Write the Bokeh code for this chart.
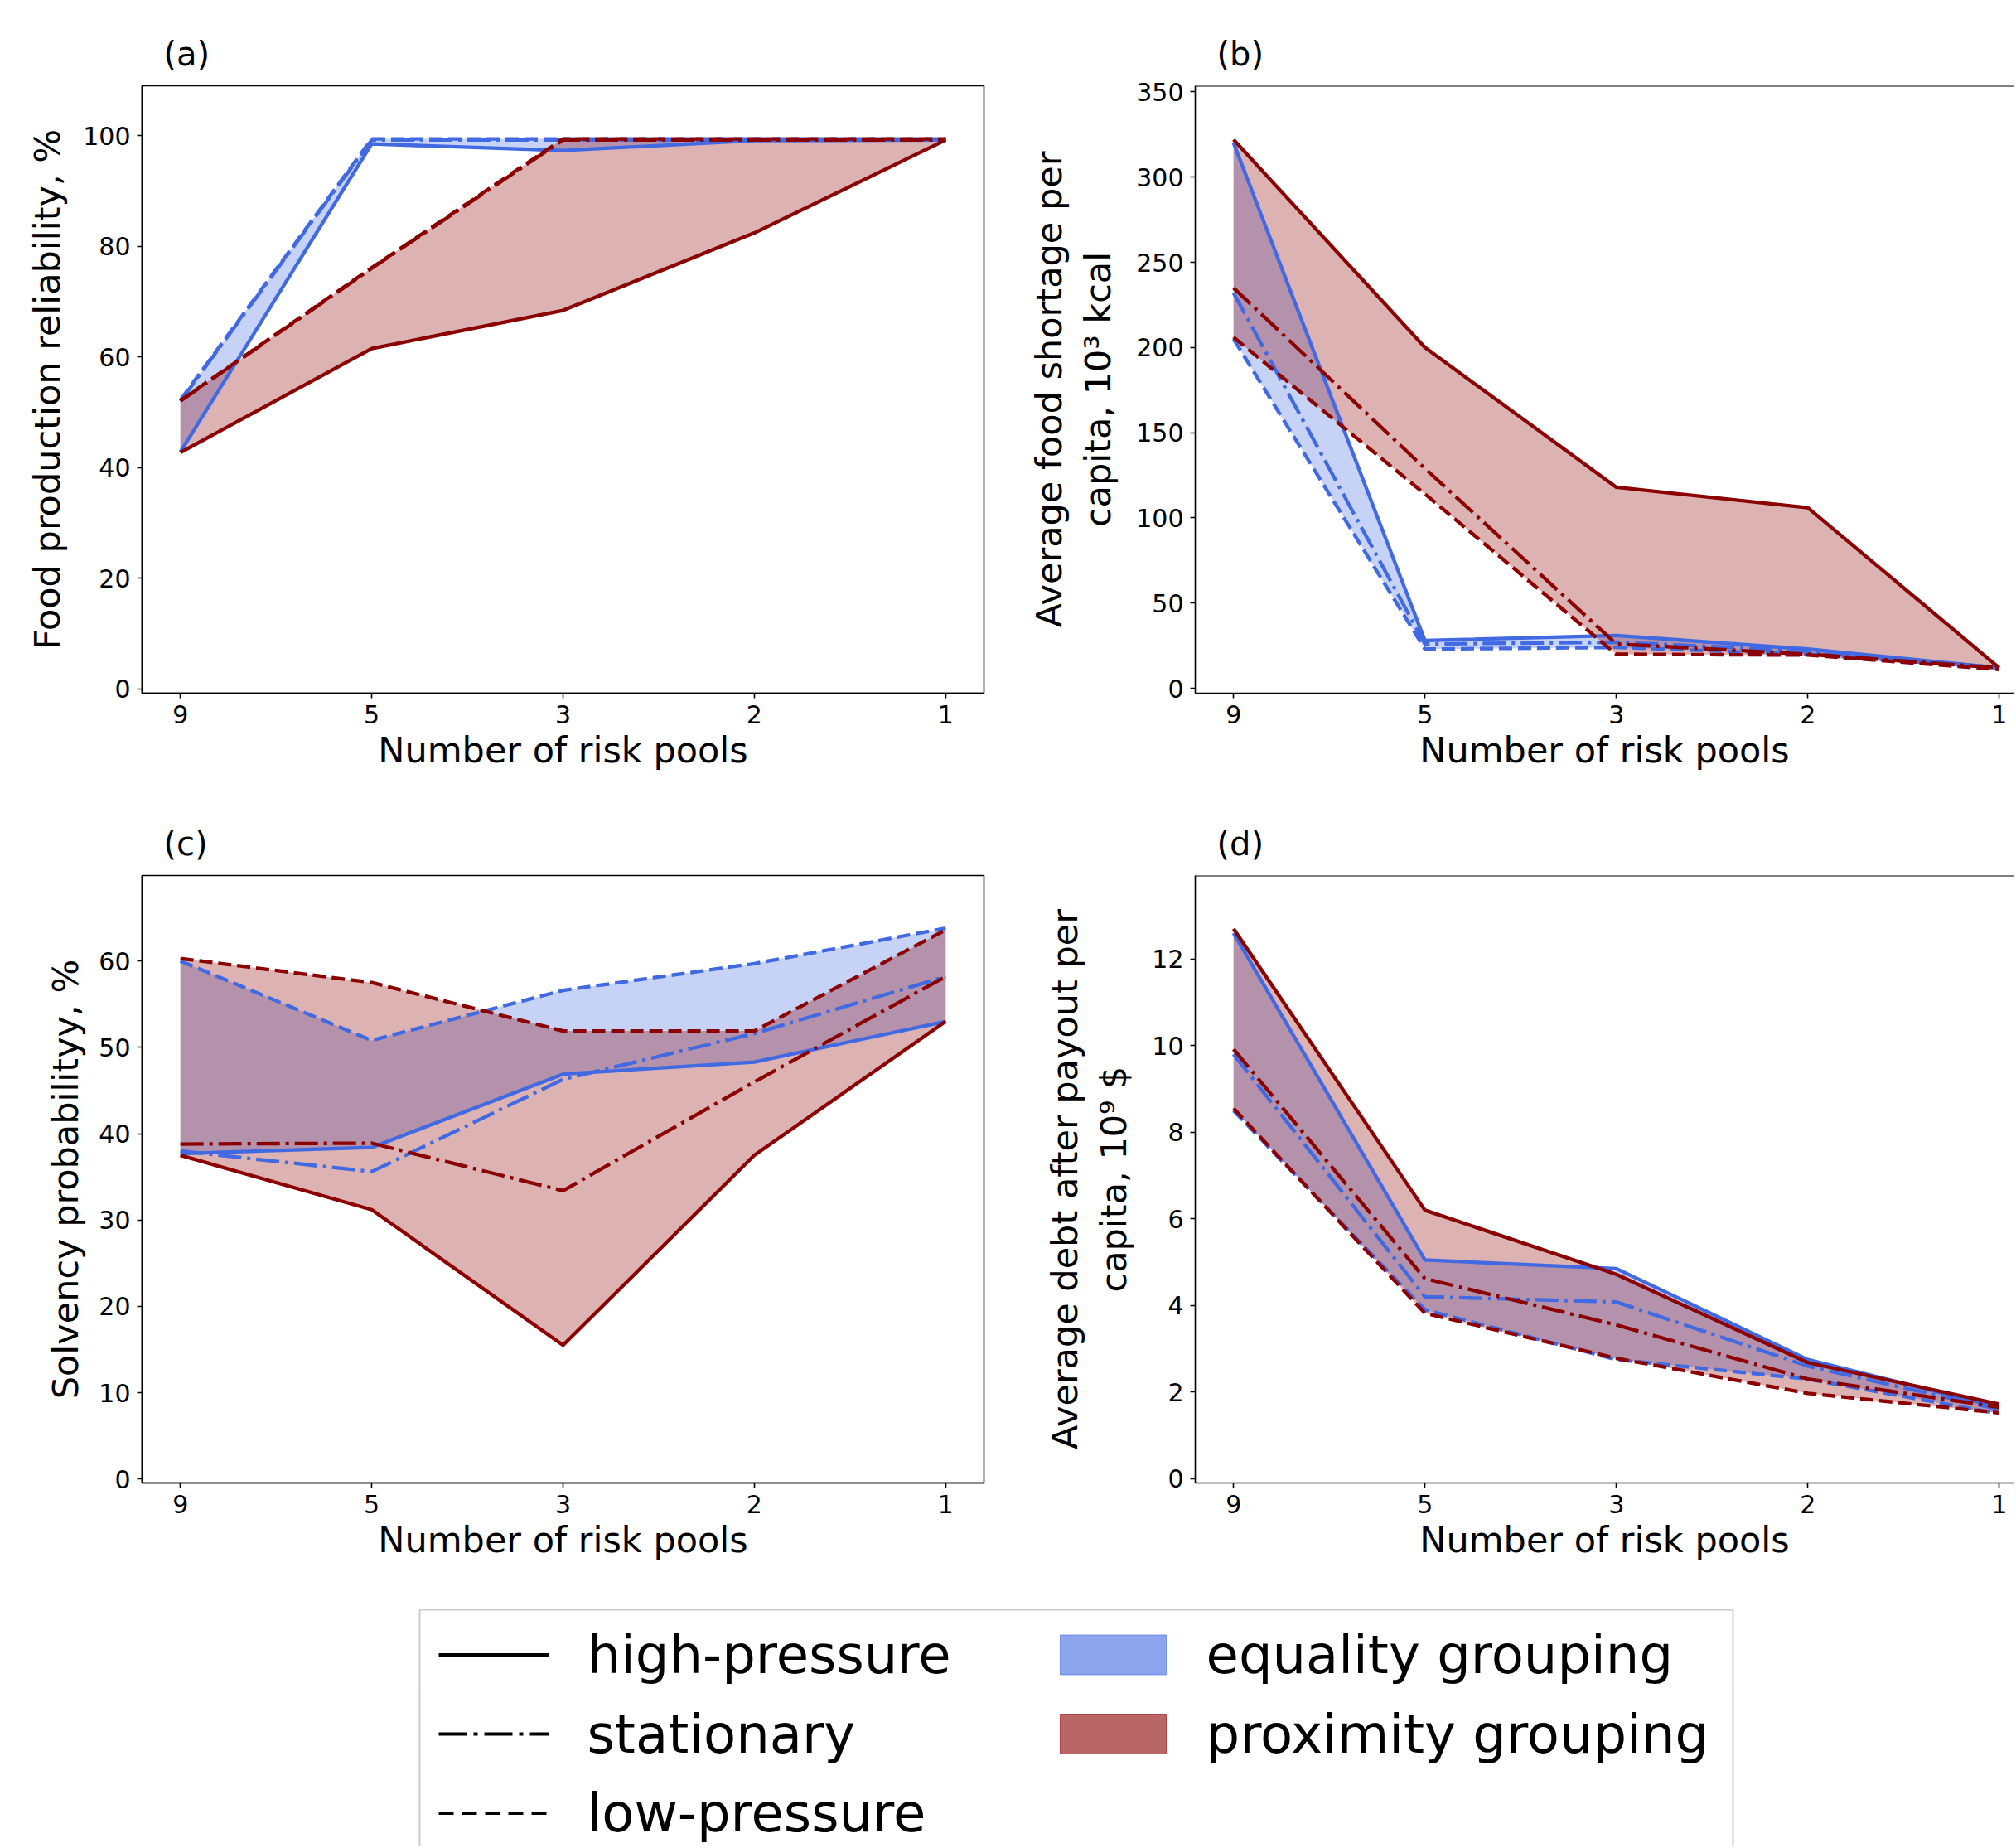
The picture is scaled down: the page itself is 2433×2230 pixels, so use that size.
from bokeh.plotting import figure
from bokeh.models import Range1d, FixedTicker, Span
from bokeh.layouts import column, row
from bokeh.embed import file_html
from bokeh.resources import INLINE
from bokeh.core.properties import value

# ---------------- data ----------------
pools = ["9", "5", "3", "2", "1"]          # number of risk pools (x categories)

# (a) Food production reliability, %
a_eq_high = [42.8, 98.5, 97.3, 99.1, 99.2]
a_eq_stat = [52.0, 99.2, 99.2, 99.2, 99.2]
a_eq_low = [52.2, 99.4, 99.4, 99.4, 99.4]
a_px_high = [42.7, 61.5, 68.4, 82.4, 99.2]
a_px_stat = [52.0, 76.0, 99.2, 99.2, 99.2]
a_px_low = [52.1, 76.1, 99.4, 99.4, 99.4]
a_yticks = [0, 20, 40, 60, 80, 100]

# (b) Average food shortage per capita, 10^3 kcal
b_eq_high = [320, 28, 31, 23, 12]
b_eq_stat = [232, 26, 27, 22, 12]
b_eq_low = [205, 23, 24, 20, 12]
b_px_high = [322, 200, 118, 106, 12]
b_px_stat = [235, 129, 26, 20, 12]
b_px_low = [206, 114, 20, 19.5, 11]
b_yticks = [0, 50, 100, 150, 200, 250, 300, 350]

# (c) Solvency probability, %
c_eq_high = [37.7, 38.4, 46.9, 48.3, 53.0]
c_eq_stat = [38.0, 35.6, 46.3, 51.6, 58.2]
c_eq_low = [60.0, 50.8, 56.6, 59.7, 63.8]
c_px_high = [37.5, 31.2, 15.5, 37.5, 53.0]
c_px_stat = [38.8, 38.9, 33.4, 46.0, 58.2]
c_px_low = [60.3, 57.5, 51.9, 51.9, 63.6]
c_yticks = [0, 10, 20, 30, 40, 50, 60]

# (d) Average debt after payout per capita, 10^9 $
d_eq_high = [12.6, 5.05, 4.85, 2.75, 1.65]
d_eq_stat = [9.8, 4.2, 4.08, 2.6, 1.6]
d_eq_low = [8.5, 3.9, 2.75, 2.3, 1.5]
d_px_high = [12.7, 6.2, 4.72, 2.68, 1.72]
d_px_stat = [9.92, 4.62, 3.55, 2.3, 1.65]
d_px_low = [8.55, 3.82, 2.78, 1.97, 1.52]
d_yticks = [0, 2, 4, 6, 8, 10, 12]

scenario_labels = ["high-pressure", "stationary", "low-pressure"]
grouping_labels = ["equality grouping", "proximity grouping"]

# ---------------- style ----------------
FONT = "DejaVu Sans"
EQ_COLOR = "royalblue"
PX_COLOR = "darkred"
DASHES = {"high": "solid", "stat": "28 7 4 7", "low": "16 7"}
LW = 4.3

xs = list(range(len(pools)))


def make_panel(letter, ylabel, yticks, yrange, xend, eq, px,
               width, height, left, right, top, bottom, closed, ylab_standoff):
    p = figure(width=width, height=height,
               x_range=Range1d(-0.2, xend), y_range=Range1d(*yrange),
               min_border_left=left, min_border_right=right,
               min_border_top=top, min_border_bottom=bottom,
               toolbar_location=None, output_backend="svg", title=letter)
    p.background_fill_color = "white"
    p.border_fill_color = "white"
    p.grid.visible = False
    if closed:
        p.outline_line_color = "black"
        p.outline_line_width = 1.6
        p.outline_line_alpha = 1.0
    else:
        p.outline_line_color = None
        p.add_layout(Span(location=yrange[1], dimension="width",
                          line_color="black", line_width=2))

    p.title.text_font = FONT
    p.title.text_font_size = "40px"
    p.title.text_font_style = "normal"
    p.title.text_color = "black"
    p.title.align = "left"
    p.title.offset = 26
    p.title.standoff = 31

    # fills (envelope between high-pressure and low-pressure scenarios)
    p.varea(x=xs, y1=eq["high"], y2=eq["low"], fill_color=EQ_COLOR, fill_alpha=0.3)
    p.varea(x=xs, y1=px["high"], y2=px["low"], fill_color=PX_COLOR, fill_alpha=0.3)
    for grp, col in ((eq, EQ_COLOR), (px, PX_COLOR)):
        for key in ("high", "stat", "low"):
            p.line(xs, grp[key], line_color=col, line_width=LW,
                   line_dash=DASHES[key], line_join="round")

    for ax in (p.xaxis[0], p.yaxis[0]):
        ax.axis_line_color = "black"
        ax.axis_line_width = 1.6
        ax.major_tick_line_color = "black"
        ax.major_tick_line_width = 1.6
        ax.major_tick_out = 6
        ax.major_tick_in = 0
        ax.minor_tick_line_color = None
        ax.major_label_text_font = FONT
        ax.major_label_text_font_size = "30px"
        ax.major_label_text_color = "black"
        ax.axis_label_text_font = FONT
        ax.axis_label_text_font_size = "43px"
        ax.axis_label_text_font_style = "normal"
        ax.axis_label_text_color = "black"

    p.xaxis.ticker = FixedTicker(ticks=xs)
    p.xaxis.major_label_overrides = {i: s for i, s in enumerate(pools)}
    p.xaxis.axis_label = "Number of risk pools"
    p.xaxis.major_label_standoff = 8
    p.xaxis.axis_label_standoff = 4

    p.yaxis.ticker = FixedTicker(ticks=yticks)
    p.yaxis.axis_label = ylabel
    p.yaxis.major_label_standoff = 8
    p.yaxis.axis_label_standoff = ylab_standoff
    p.yaxis.axis_label_text_line_height = 1.18
    return p


def grp(h, s, l):
    return {"high": h, "stat": s, "low": l}


LEFT_W, RIGHT_W = 1202, 1228
ROW1_H, ROW2_H = 948, 951
XEND_L, XEND_R = 4.2, 4.077

pa = make_panel("(a)", "Food production reliability, %", a_yticks, (-0.8, 109.0), XEND_L,
                grp(a_eq_high, a_eq_stat, a_eq_low), grp(a_px_high, a_px_stat, a_px_low),
                LEFT_W, ROW1_H, 171, 15, 103, 112, True, 15)
pb = make_panel("(b)", "Average food shortage per\ncapita, 10\u00b3 kcal", b_yticks, (-2.9, 353.6), XEND_R,
                grp(b_eq_high, b_eq_stat, b_eq_low), grp(b_px_high, b_px_stat, b_px_low),
                RIGHT_W, ROW1_H, 240, 0, 103, 112, False, 18)
pc = make_panel("(c)", "Solvency probabilityy, %", c_yticks, (-0.45, 69.9), XEND_L,
                grp(c_eq_high, c_eq_stat, c_eq_low), grp(c_px_high, c_px_stat, c_px_low),
                LEFT_W, ROW2_H, 171, 15, 108, 110, True, 12)
pd_ = make_panel("(d)", "Average debt after payout per\ncapita, 10\u2079 $", d_yticks, (-0.1, 13.93), XEND_R,
                 grp(d_eq_high, d_eq_stat, d_eq_low), grp(d_px_high, d_px_stat, d_px_low),
                 RIGHT_W, ROW2_H, 240, 0, 108, 110, False, 18)

# ---------------- legend (drawn in its own pixel-mapped figure) ----------------
LEG_W, LEG_H = LEFT_W + RIGHT_W, 329
pl = figure(width=LEG_W, height=LEG_H, x_range=Range1d(0, LEG_W), y_range=Range1d(LEG_H, 0),
            min_border=0, toolbar_location=None, output_backend="svg",
            x_axis_location=None, y_axis_location=None)
pl.outline_line_color = None
pl.grid.visible = False
pl.background_fill_color = "white"
pl.border_fill_color = "white"

pl.quad(left=[506], right=[2091], top=[43], bottom=[LEG_H + 40],
        fill_color="white", line_color="#cccccc", line_width=2)

row_y = [97.5, 193.0, 288.5]
leg_dash = ["solid", "34 8 5 8", "18 10"]
for yy, dash in zip(row_y, leg_dash):
    pl.line([529, 662], [yy, yy], line_color="black", line_width=4, line_dash=dash)
pl.text(x=[708] * 3, y=row_y, text=scenario_labels, text_font=value(FONT),
        text_font_size=value("64px"), text_baseline="middle", text_align="left",
        text_color="black")

for yy, col in zip(row_y[:2], [EQ_COLOR, PX_COLOR]):
    pl.quad(left=[1279], right=[1407], top=[yy - 24], bottom=[yy + 24],
            fill_color=col, fill_alpha=0.6, line_color=col, line_alpha=0.6, line_width=1)
pl.text(x=[1455] * 2, y=row_y[:2], text=grouping_labels, text_font=value(FONT),
        text_font_size=value("64px"), text_baseline="middle", text_align="left",
        text_color="black")

layout = column(row(pa, pb), row(pc, pd_), pl)

with open("out.html", "w") as f:
    f.write(file_html(layout, INLINE, title="Risk pools"))
